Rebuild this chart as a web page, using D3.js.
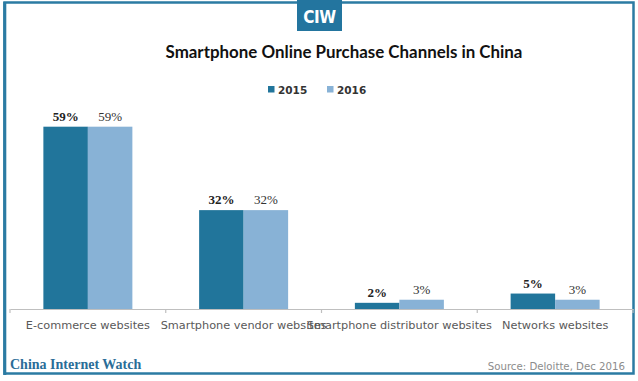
<!DOCTYPE html>
<html>
<head>
<meta charset="utf-8">
<script src="https://cdn.jsdelivr.net/npm/d3@7"></script>
<style>
  html, body { margin: 0; padding: 0; background: #fff; }
  svg { display: block; }
  .val { font-family: 'Liberation Serif', 'Times New Roman', serif; font-size: 13px; }
</style>
</head>
<body>
<svg id="chart" width="638" height="381"></svg>
<script>
const categories = ["E-commerce websites", "Smartphone vendor websites", "Smartphone distributor websites", "Networks websites"];
const seriesNames = ["2015", "2016"];
const values2015 = [59, 32, 2, 5];
const values2016 = [59, 32, 3, 3];
const valueLabels2015 = ["59%", "32%", "2%", "5%"];
const valueLabels2016 = ["59%", "32%", "3%", "3%"];
const titleText = "Smartphone Online Purchase Channels in China";
const sourceText = "Source: Deloitte, Dec 2016";
const brandText = "China Internet Watch";
const logoText = "CIW";

const colors = { "2015": "#21759b", "2016": "#88b2d6" };
const frameColor = "#2b7ba3";
const serif = "'Liberation Serif', 'Times New Roman', serif";

const svg = d3.select("#chart");

// frame
svg.append("rect").attr("x", 4.5).attr("y", 2.5).attr("width", 629).attr("height", 371)
  .attr("fill", "none").attr("stroke", frameColor).attr("stroke-width", 2.5);
svg.append("line").attr("x1", 4.8).attr("x2", 4.8).attr("y1", 2).attr("y2", 375)
  .attr("stroke", frameColor).attr("stroke-width", 3);

// logo
svg.append("rect").attr("x", 297).attr("y", 0).attr("width", 45).attr("height", 31).attr("fill", "#23759f");
svg.append("text").attr("x", 319.5).attr("y", 23).attr("text-anchor", "middle")
  .attr("font-family", "'DejaVu Sans Condensed', 'DejaVu Sans'").attr("font-weight", "bold")
  .attr("font-size", 17).attr("fill", "#fff").attr("letter-spacing", -0.5).text(logoText);

// title
svg.append("text").attr("x", 344).attr("y", 58).attr("text-anchor", "middle")
  .attr("font-family", "Lato, 'Open Sans', sans-serif").attr("font-weight", "bold")
  .attr("font-size", 16.9).attr("fill", "#111").text(titleText);

// legend
const legend = svg.append("g");
const legendX = [268, 327];
seriesNames.forEach((s, i) => {
  const g = legend.append("g").attr("transform", `translate(${legendX[i]},0)`);
  g.append("rect").attr("x", 0).attr("y", 86).attr("width", 6.5).attr("height", 6.5).attr("fill", colors[s]);
  g.append("text").attr("x", 10).attr("y", 94).attr("font-family", "'DejaVu Sans'")
    .attr("font-weight", "bold").attr("font-size", 10.5).attr("fill", "#333").text(s);
});

// scales
const x = d3.scaleBand().domain(categories).range([10, 633]).paddingInner(0).paddingOuter(0);
const x1 = d3.scaleBand().domain(seriesNames).range([0, x.bandwidth()]).paddingInner(0).paddingOuter(0.75);
const y = d3.scaleLinear().domain([0, 60]).range([309, 123.6]);

const data = categories.map((c, i) => ({
  cat: c,
  vals: [
    { s: "2015", v: values2015[i], label: valueLabels2015[i] },
    { s: "2016", v: values2016[i], label: valueLabels2016[i] }
  ]
}));

const groups = svg.append("g").selectAll("g").data(data).join("g")
  .attr("transform", d => `translate(${x(d.cat)},0)`);

groups.selectAll("rect").data(d => d.vals).join("rect")
  .attr("x", d => x1(d.s))
  .attr("y", d => y(d.v))
  .attr("width", x1.bandwidth())
  .attr("height", d => y(0) - y(d.v))
  .attr("fill", d => colors[d.s]);

groups.selectAll("text.val").data(d => d.vals).join("text")
  .attr("class", "val")
  .attr("x", d => x1(d.s) + x1.bandwidth() / 2)
  .attr("y", d => y(d.v) - 6)
  .attr("text-anchor", "middle")
  .attr("font-family", serif)
  .attr("font-weight", d => d.s === "2015" ? "bold" : "normal")
  .attr("fill", d => d.s === "2015" ? "#222" : "#333")
  .text(d => d.label);

// axis
const axis = d3.axisBottom(x).tickSize(0).tickPadding(12).tickSizeOuter(0);
const axG = svg.append("g").attr("transform", `translate(0,${y(0)})`).call(axis);
axG.attr("font-family", null).attr("font-size", null);
axG.select(".domain").attr("stroke", "#bfbfbf").attr("stroke-width", 1.2);
axG.selectAll("text").style("font-family", "'DejaVu Sans'").style("font-size", "11.3px")
  .attr("fill", "#595959");
const bounds = categories.map(c => x(c)).concat([x.range()[1]]);
axG.selectAll("line.bound").data(bounds).join("line").attr("class", "bound")
  .attr("x1", d => d).attr("x2", d => d).attr("y1", 0).attr("y2", 4)
  .attr("stroke", "#bfbfbf").attr("stroke-width", 1.2);

// footer
svg.append("text").attr("x", 10).attr("y", 369).style("font-family", serif)
  .style("font-weight", "bold").style("font-size", "14px").attr("fill", "#2a6d98").text(brandText);
svg.append("text").attr("x", 625).attr("y", 370).attr("text-anchor", "end")
  .style("font-family", "'DejaVu Sans'").style("font-size", "10.2px").attr("fill", "#8c8c8c").text(sourceText);
</script>
</body>
</html>
